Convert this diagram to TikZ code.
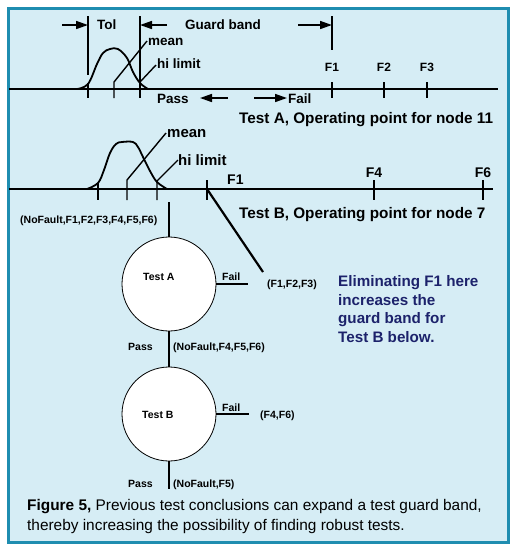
\documentclass[tikz,border=0pt]{standalone}
\usepackage{fontspec}
\setmainfont{Liberation Sans}
\usetikzlibrary{arrows.meta}
\definecolor{bgblue}{HTML}{D6EDF5}
\definecolor{frameteal}{HTML}{1F8DB0}
\definecolor{navytext}{HTML}{1C226B}
\begin{document}
\begin{tikzpicture}[x=1pt,y=-1pt,
  every node/.style={inner sep=0pt},
  thick line/.style={line width=1.8pt},
  thin line/.style={line width=1.4pt},
  garrow/.style={line width=1.6pt,-{Triangle[length=12pt,width=8pt]}},
  bell/.style={line width=1.8pt},
  lblA/.style={anchor=base west,font=\fontsize{13.5}{16}\selectfont\bfseries},
  lblB/.style={anchor=base west,font=\fontsize{15}{18}\selectfont\bfseries},
  fA/.style={anchor=base,font=\fontsize{12}{14}\selectfont\bfseries},
  fB/.style={anchor=base,font=\fontsize{14}{16}\selectfont\bfseries},
  title/.style={anchor=base west,font=\fontsize{15.3}{18}\selectfont\bfseries},
  small/.style={anchor=base west,font=\fontsize{10.5}{12}\selectfont\bfseries},
  testcircle/.style={circle,draw,line width=0.8pt,fill=white,minimum size=94pt},
  note/.style={anchor=base west,align=left,text=navytext,font=\fontsize{15.2}{18.5}\selectfont\bfseries},
  caption/.style={anchor=base west,align=left,font=\fontsize{15.4}{20}\selectfont}]
\useasboundingbox (0,0) rectangle (513,550);
\fill[white] (0,0) rectangle (513,550);
\draw[frameteal,line width=3pt,fill=bgblue] (8.5,8.5) rectangle (508.5,542.5);

% ---------- Test A operating point ----------
\draw[thick line] (9,89) -- (498,89);
\draw[bell] plot[smooth,tension=0.6] coordinates {(77,89) (88,84) (97,64) (103,53) (110,49) (118,49) (127,58) (133,72) (140,83) (148,89)};
\draw[thin line] (88,16) -- (88,75);
\draw[thin line] (88,83) -- (88,98);
\draw[thin line] (140,16) -- (140,98);
\draw[thin line] (147,41) -- (114,82) -- (114,98);
\draw[thin line] (156,65) -- (140,82);
\draw[thin line] (332,16) -- (332,50);
\foreach \x in {332,384,427} \draw[thin line] (\x,82) -- (\x,98);
\coordinate (tolL) at (62,25);
\coordinate (tolR) at (167,25);
\coordinate (gbS) at (298,25);
\coordinate (gbE) at (332,25);
\coordinate (tolA) at (88,25);
\coordinate (tolB) at (140,25);
\draw[garrow] (tolL) -- (tolA);
\draw[garrow] (tolR) -- (tolB);
\draw[garrow] (gbS) -- (gbE);
\node[lblA] (tol) at (97,29) {Tol};
\node[lblA] (gb) at (185,29) {Guard band};
\node[lblA] (meanA) at (148,45) {mean};
\node[lblA] (hiA) at (157,68) {hi limit};
\node[lblA] (passA) at (157,103) {Pass};
\node[lblA] (failA) at (288,103) {Fail};
\coordinate (passS) at (228,98);
\coordinate (passE) at (200,98);
\coordinate (failS) at (254,98);
\coordinate (failE) at (287,98);
\draw[garrow] (passS) -- (passE);
\draw[garrow] (failS) -- (failE);
\node[fA] (fa1) at (332,71) {F1};
\node[fA] (fa2) at (384,71) {F2};
\node[fA] (fa3) at (427,71) {F3};
\node[title] (titleA) at (239,123) {Test A, Operating point for node 11};

% ---------- Test B operating point ----------
\draw[thick line] (9,189) -- (493,189);
\draw[bell] plot[smooth,tension=0.6] coordinates {(87,189) (98,183) (104,170) (110,153) (116,144) (122,142) (133,142) (138,147) (143,157) (150,171) (157,182) (167,189)};
\draw[thin line] (98,183) -- (98,200);
\draw[thin line] (166,133) -- (127,180) -- (127,200);
\draw[thin line] (178,160) -- (157,181) -- (157,200);
\coordinate (f1tick) at (207,189);
\draw[thin line] (207,180) -- (207,200);
\draw[thin line] (374,180) -- (374,200);
\draw[thin line] (483,180) -- (483,200);
\node[lblB] (meanB) at (167,137) {mean};
\node[lblB] (hiB) at (178,165) {hi limit};
\node[fB,anchor=base west] (fb1) at (227,184) {F1};
\node[fB] (fb4) at (374,177) {F4};
\node[fB] (fb6) at (483,177) {F6};
\node[title] (titleB) at (239,218) {Test B, Operating point for node 7};

% ---------- decision tree ----------
\node[small] (allfaults) at (20,223.5) {(NoFault,F1,F2,F3,F4,F5,F6)};
\coordinate (rootTop) at (169,202);
\node[testcircle] (testA) at (169,284) {};
\node[testcircle] (testB) at (169,414) {};
\node[small] (testAlbl) at (143,280) {Test A};
\node[small] (testBlbl) at (142,418) {Test B};
\draw[thin line] (rootTop) -- (testA.north);
\coordinate (failAend) at (248,284);
\coordinate (failBend) at (249,414);
\coordinate (passBend) at (169,489);
\draw[thin line] (testA.east) -- (failAend);
\draw[thin line] (testB.east) -- (failBend);
\draw[thin line] (testA.south) -- (testB.north);
\draw[thin line] (testB.south) -- (passBend);
\node[small] (failAlbl) at (222,280) {Fail};
\node[small] (f123) at (267,287) {(F1,F2,F3)};
\coordinate (f123tip) at (263,272);
\draw[line width=2.2pt] (f1tick) -- (f123tip);
\node[small] (passAlbl) at (128,350) {Pass};
\node[small] (set2) at (173,350) {(NoFault,F4,F5,F6)};
\node[small] (failBlbl) at (222,411) {Fail};
\node[small] (f46) at (260,418) {(F4,F6)};
\node[small] (passBlbl) at (128,487) {Pass};
\node[small] (set3) at (173,487) {(NoFault,F5)};
\node[note] (note) at (338,342) {Eliminating F1 here\\increases the\\guard band for\\Test B below.};
\node[caption] (cap) at (27,530) {\textbf{Figure 5,} Previous test conclusions can expand a test guard band,\\thereby increasing the possibility of finding robust tests.};
\end{tikzpicture}
\end{document}
